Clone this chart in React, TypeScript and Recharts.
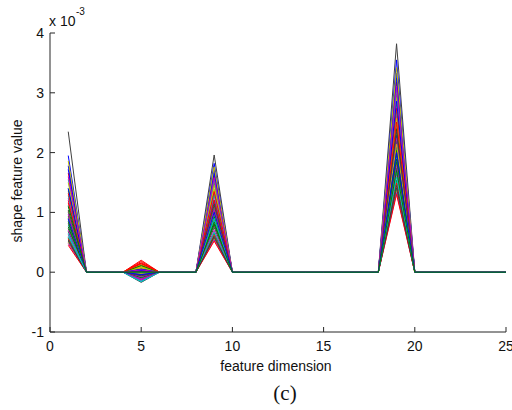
import React from 'react';
import { LineChart, Line, XAxis, YAxis } from 'recharts';

// feature dimensions (x axis)
const dims = [1, 2, 3, 4, 5, 6, 7, 8, 9, 10, 11, 12, 13, 14, 15, 16, 17, 18, 19, 20, 21, 22, 23, 24, 25];
const xTicks = [0, 5, 10, 15, 20, 25];
const yTicks = [-1, 0, 1, 2, 3, 4];

// shape feature values, in units of 1e-3, one entry per sample.
// every other dimension is ~0
const dim1 = [
  1.0, 0.58, 1.2, 0.79, 1.24, 0.5, 2.35, 0.88, 0.68, 1.66,
  1.12, 0.48, 1.36, 0.73, 1.78, 0.94, 0.56, 1.28, 0.63, 1.02,
  0.82, 1.95, 1.4, 0.45, 1.55, 0.7, 1.5, 0.54, 1.72, 0.85,
  1.32, 0.6, 0.97, 1.86, 0.52, 1.4, 0.76, 1.16, 0.65, 1.6,
  0.91, 1.04, 0.9, 1.1,
];
const dim5 = [
  0.02, -0.04, 0.18, 0.05, -0.12, 0.08, -0.17, -0.03, 0.04, 0.2,
  -0.06, -0.14, 0.1, 0.01, -0.02, 0.06, 0.15, -0.08, -0.13, 0.07,
  -0.05, 0.03, -0.09, 0.12, -0.15, -0.07, 0.09, 0.0, 0.03, -0.1,
  0.16, -0.01, -0.11, 0.13, -0.06, 0.05, 0.11, 0.14, -0.16, 0.04,
  -0.02, 0.01, -0.04, 0.0,
];
const dim9 = [
  1.08, 0.65, 1.5, 0.87, 1.28, 0.56, 1.96, 0.96, 0.75, 1.62,
  1.3, 0.54, 1.39, 0.81, 1.71, 1.02, 0.62, 1.32, 0.7, 1.46,
  0.9, 1.82, 1.15, 0.52, 1.54, 0.78, 1.1, 0.6, 1.66, 0.93,
  1.35, 0.67, 1.05, 1.76, 0.58, 1.2, 0.84, 1.21, 0.9, 1.58,
  0.99, 1.12, 1.0, 0.8,
];
const dim19 = [
  2.29, 1.54, 2.98, 1.94, 2.62, 1.37, 3.82, 2.09, 1.74, 3.18,
  2.46, 1.33, 2.8, 1.84, 3.33, 2.19, 1.49, 2.68, 1.64, 2.92,
  1.99, 3.55, 2.4, 1.3, 3.04, 1.79, 2.57, 1.45, 3.25, 2.04,
  2.74, 1.59, 2.24, 3.42, 1.41, 2.86, 1.89, 2.51, 1.69, 3.11,
  2.14, 2.35, 2.0, 1.7,
];

// matlab default color order
const lineColors = ['#0000FF', '#008000', '#FF0000', '#00BFBF', '#BF00BF', '#BFBF00', '#404040'];

const data = dims.map((d) => {
  const row: any = { dim: d };
  dim1.forEach((_, i) => {
    let v = 0;
    if (d === 1) v = dim1[i];
    else if (d === 5) v = dim5[i];
    else if (d === 9) v = dim9[i];
    else if (d === 19) v = dim19[i];
    row[`s${i}`] = v;
  });
  return row;
});

const AXIS = '#262626';
const FONT = '"Liberation Sans", Arial, sans-serif';

const BottomTick = ({ x, y, payload }: any) => (
  <g>
    <line x1={x} y1={y} x2={x} y2={y - 5} stroke={AXIS} />
    <text x={x} y={y + 19} textAnchor="middle" fontSize={14} fontFamily={FONT} fill="#111">
      {payload.value}
    </text>
  </g>
);

const LeftTick = ({ x, y, payload }: any) => (
  <g>
    <line x1={x} y1={y} x2={x + 5} y2={y} stroke={AXIS} />
    <text x={x - 6} y={y + 5} textAnchor="end" fontSize={14} fontFamily={FONT} fill="#111">
      {payload.value}
    </text>
  </g>
);

const TopTick = ({ x, y }: any) => <line x1={x} y1={y} x2={x} y2={y + 5} stroke={AXIS} />;
const RightTick = ({ x, y }: any) => <line x1={x} y1={y} x2={x - 5} y2={y} stroke={AXIS} />;

export default function App() {
  return (
    <div style={{ position: 'absolute', left: 0, top: 0, width: 512, height: 410, background: '#fff' }}>
      <LineChart width={512} height={410} data={data} margin={{ top: 33, right: 6, bottom: 0, left: 0 }}>
        <XAxis
          dataKey="dim"
          type="number"
          domain={[0, 25]}
          ticks={xTicks}
          interval={0}
          height={78}
          tickSize={0}
          tickMargin={0}
          tickLine={false}
          axisLine={{ stroke: AXIS }}
          tick={<BottomTick />}
        />
        <XAxis
          xAxisId="top"
          orientation="top"
          dataKey="dim"
          type="number"
          domain={[0, 25]}
          ticks={xTicks}
          interval={0}
          height={0}
          tickSize={0}
          tickMargin={0}
          tickLine={false}
          axisLine={{ stroke: AXIS }}
          tick={<TopTick />}
        />
        <YAxis
          type="number"
          domain={[-1, 4]}
          ticks={yTicks}
          interval={0}
          width={50}
          tickSize={0}
          tickMargin={0}
          tickLine={false}
          axisLine={{ stroke: AXIS }}
          tick={<LeftTick />}
        />
        <YAxis
          yAxisId="right"
          orientation="right"
          type="number"
          domain={[-1, 4]}
          ticks={yTicks}
          interval={0}
          width={0}
          tickSize={0}
          tickMargin={0}
          tickLine={false}
          axisLine={{ stroke: AXIS }}
          tick={<RightTick />}
        />
        {dim1.map((_, i) => (
          <Line
            key={i}
            type="linear"
            dataKey={`s${i}`}
            stroke={lineColors[i % lineColors.length]}
            strokeWidth={1}
            dot={false}
            activeDot={false}
            isAnimationActive={false}
          />
        ))}
      </LineChart>
      <svg width={512} height={410} style={{ position: 'absolute', left: 0, top: 0, pointerEvents: 'none' }}>
        <text x={49} y={26} fontSize={14} fontFamily={FONT} fill="#111">x 10</text>
        <text x={76} y={15} fontSize={10} fontFamily={FONT} fill="#111">-3</text>
        <text
          x={22}
          y={181}
          transform="rotate(-90 22 181)"
          textAnchor="middle"
          fontSize={14}
          fontFamily={FONT}
          fill="#111"
        >
          shape feature value
        </text>
        <text x={276} y={371} textAnchor="middle" fontSize={14} fontFamily={FONT} fill="#111">
          feature dimension
        </text>
        <text
          x={285}
          y={400}
          textAnchor="middle"
          fontSize={21}
          fontFamily='"Liberation Serif", "Times New Roman", serif'
          fill="#111"
        >
          (c)
        </text>
      </svg>
    </div>
  );
}
